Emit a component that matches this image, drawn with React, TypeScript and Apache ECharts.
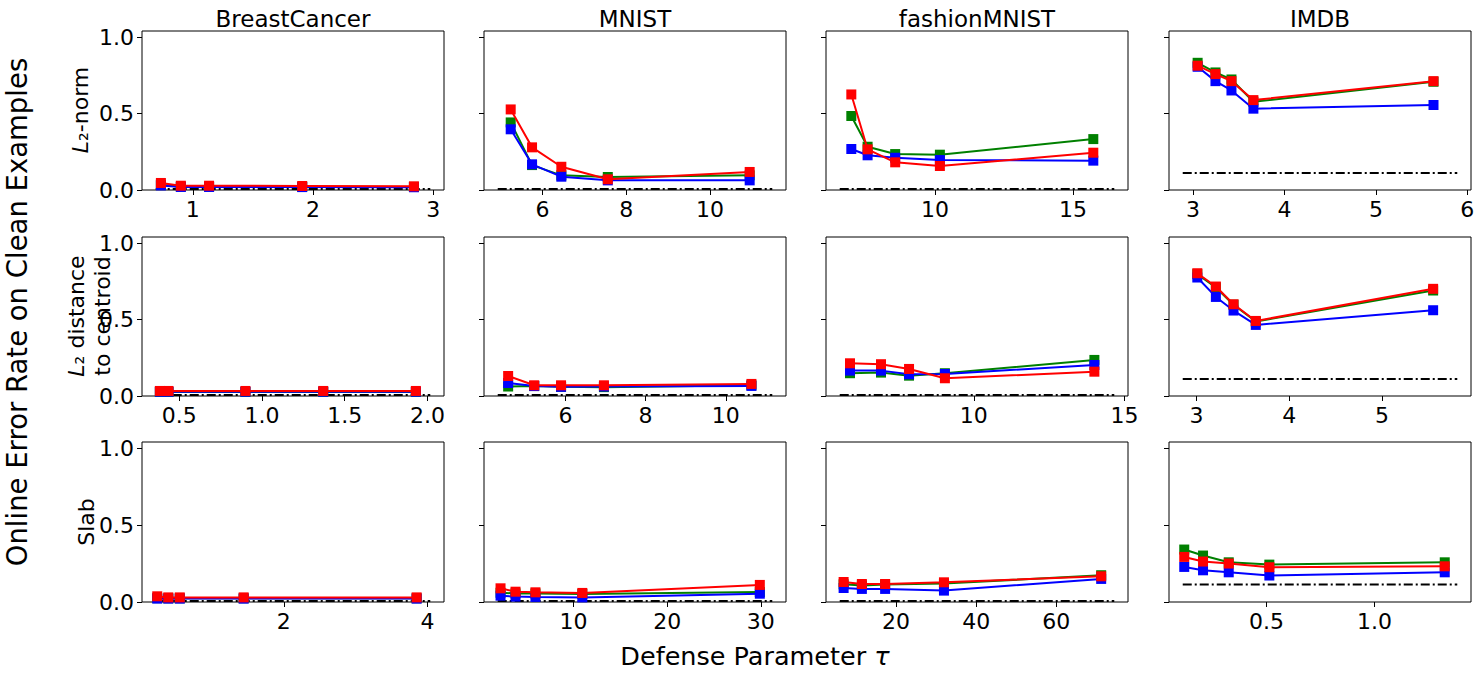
import React, { useEffect, useRef } from 'react';
import * as echarts from 'echarts';

const datasets = ['BreastCancer', 'MNIST', 'fashionMNIST', 'IMDB'];
const FONT = 'DejaVu Sans';

// ---------- Row 1: L2-norm defense ----------
const bcNormTau = [0.734, 0.9, 1.135, 1.91, 2.84];
const bcNormGreen = [0.035, 0.022, 0.022, 0.021, 0.02];
const bcNormBlue = [0.03, 0.02, 0.02, 0.019, 0.018];
const bcNormRed = [0.046, 0.028, 0.028, 0.026, 0.024];

const mnNormTau = [5.24, 5.75, 6.45, 7.56, 10.95];
const mnNormGreen = [0.442, 0.163, 0.096, 0.085, 0.096];
const mnNormBlue = [0.397, 0.168, 0.087, 0.063, 0.063];
const mnNormRed = [0.527, 0.279, 0.152, 0.07, 0.118];

const fmNormTau = [6.97, 7.56, 8.56, 10.18, 15.74];
const fmNormGreen = [0.484, 0.283, 0.235, 0.231, 0.333];
const fmNormBlue = [0.268, 0.227, 0.211, 0.196, 0.192];
const fmNormRed = [0.625, 0.266, 0.181, 0.157, 0.244];

const imNormTau = [3.05, 3.245, 3.42, 3.66, 5.63];
const imNormGreen = [0.832, 0.769, 0.723, 0.577, 0.708];
const imNormBlue = [0.806, 0.712, 0.651, 0.532, 0.556];
const imNormRed = [0.813, 0.758, 0.712, 0.588, 0.712];

// ---------- Row 2: L2 distance to centroid ----------
const bcCentTau = [0.383, 0.435, 0.9, 1.37, 1.93];
const bcCentGreen = [0.026, 0.026, 0.026, 0.026, 0.026];
const bcCentBlue = [0.028, 0.028, 0.028, 0.028, 0.028];
const bcCentRed = [0.033, 0.033, 0.033, 0.033, 0.033];

const mnCentTau = [4.57, 5.22, 5.89, 6.96, 10.64];
const mnCentGreen = [0.062, 0.065, 0.06, 0.058, 0.07];
const mnCentBlue = [0.085, 0.065, 0.06, 0.062, 0.066];
const mnCentRed = [0.131, 0.07, 0.07, 0.07, 0.079];

const fmCentTau = [5.89, 6.92, 7.85, 9.04, 14.0];
const fmCentGreen = [0.149, 0.153, 0.133, 0.149, 0.236];
const fmCentBlue = [0.166, 0.166, 0.142, 0.144, 0.203];
const fmCentRed = [0.214, 0.208, 0.177, 0.116, 0.159];

const imCentTau = [3.01, 3.21, 3.4, 3.64, 5.55];
const imCentGreen = [0.797, 0.71, 0.597, 0.487, 0.69];
const imCentBlue = [0.775, 0.648, 0.559, 0.465, 0.561];
const imCentRed = [0.803, 0.716, 0.6, 0.491, 0.701];

// ---------- Row 3: Slab ----------
const bcSlabTau = [0.236, 0.39, 0.55, 1.44, 3.85];
const bcSlabGreen = [0.025, 0.024, 0.024, 0.024, 0.024];
const bcSlabBlue = [0.022, 0.022, 0.022, 0.022, 0.022];
const bcSlabRed = [0.037, 0.03, 0.03, 0.03, 0.03];

const mnSlabTau = [2.19, 3.79, 5.92, 10.93, 29.9];
const mnSlabGreen = [0.06, 0.056, 0.055, 0.052, 0.065];
const mnSlabBlue = [0.041, 0.035, 0.033, 0.03, 0.054];
const mnSlabRed = [0.089, 0.067, 0.063, 0.059, 0.111];

const fmSlabTau = [6.9, 11.46, 17.26, 31.95, 71.2];
const fmSlabGreen = [0.115, 0.108, 0.113, 0.12, 0.174];
const fmSlabBlue = [0.091, 0.085, 0.085, 0.074, 0.15];
const fmSlabRed = [0.13, 0.117, 0.117, 0.128, 0.167];

const imSlabTau = [0.119, 0.206, 0.325, 0.513, 1.325];
const imSlabGreen = [0.341, 0.302, 0.258, 0.243, 0.258];
const imSlabBlue = [0.228, 0.206, 0.193, 0.172, 0.193];
const imSlabRed = [0.293, 0.263, 0.25, 0.226, 0.232];

// ---------- Baseline (dash-dot) lines: [tauStart, tauEnd, error] ----------
const baselineNorm = [
  [0.691, 2.976, 0.006],
  [4.93, 11.49, 0.006],
  [6.55, 16.5, 0.006],
  [2.887, 5.89, 0.111],
];
const baselineCent = [
  [0.358, 2.017, 0.006],
  [4.31, 11.16, 0.006],
  [5.55, 14.66, 0.006],
  [2.853, 5.81, 0.111],
];
const baselineSlab = [
  [0.215, 4.04, 0.006],
  [1.89, 31.23, 0.006],
  [5.93, 74.47, 0.006],
  [0.112, 1.383, 0.113],
];

// ---------- Tick labels ----------
const xTicksNorm = [[1, 2, 3], [6, 8, 10], [10, 15], [3, 4, 5, 6]];
const xTicksCent = [[0.5, 1.0, 1.5, 2.0], [6, 8, 10], [10, 15], [3, 4, 5]];
const xTicksSlab = [[2, 4], [10, 20, 30], [20, 40, 60], [0.5, 1.0]];
const yTicks = [0, 0.5, 1.0];

const panels = [
  [
    { tau: bcNormTau, g: bcNormGreen, b: bcNormBlue, r: bcNormRed, base: baselineNorm[0], ticks: xTicksNorm[0] },
    { tau: mnNormTau, g: mnNormGreen, b: mnNormBlue, r: mnNormRed, base: baselineNorm[1], ticks: xTicksNorm[1] },
    { tau: fmNormTau, g: fmNormGreen, b: fmNormBlue, r: fmNormRed, base: baselineNorm[2], ticks: xTicksNorm[2] },
    { tau: imNormTau, g: imNormGreen, b: imNormBlue, r: imNormRed, base: baselineNorm[3], ticks: xTicksNorm[3] },
  ],
  [
    { tau: bcCentTau, g: bcCentGreen, b: bcCentBlue, r: bcCentRed, base: baselineCent[0], ticks: xTicksCent[0] },
    { tau: mnCentTau, g: mnCentGreen, b: mnCentBlue, r: mnCentRed, base: baselineCent[1], ticks: xTicksCent[1] },
    { tau: fmCentTau, g: fmCentGreen, b: fmCentBlue, r: fmCentRed, base: baselineCent[2], ticks: xTicksCent[2] },
    { tau: imCentTau, g: imCentGreen, b: imCentBlue, r: imCentRed, base: baselineCent[3], ticks: xTicksCent[3] },
  ],
  [
    { tau: bcSlabTau, g: bcSlabGreen, b: bcSlabBlue, r: bcSlabRed, base: baselineSlab[0], ticks: xTicksSlab[0] },
    { tau: mnSlabTau, g: mnSlabGreen, b: mnSlabBlue, r: mnSlabRed, base: baselineSlab[1], ticks: xTicksSlab[1] },
    { tau: fmSlabTau, g: fmSlabGreen, b: fmSlabBlue, r: fmSlabRed, base: baselineSlab[2], ticks: xTicksSlab[2] },
    { tau: imSlabTau, g: imSlabGreen, b: imSlabBlue, r: imSlabRed, base: baselineSlab[3], ticks: xTicksSlab[3] },
  ],
];

const GRID_LEFT = [142, 484, 826, 1169];
const GRID_TOP = [31, 237, 442];
const GRID_W = 302;
const GRID_H = [159, 159, 160];

function buildOption() {
  const grid: any[] = [];
  const xAxis: any[] = [];
  const yAxis: any[] = [];
  const series: any[] = [];
  const graphic: any[] = [];

  panels.forEach((row, ri) => {
    row.forEach((p, ci) => {
      const idx = ri * 4 + ci;
      grid.push({
        left: GRID_LEFT[ci],
        top: GRID_TOP[ri],
        width: GRID_W,
        height: GRID_H[ri],
        show: true,
        borderColor: '#000',
        borderWidth: 1,
        backgroundColor: 'transparent',
        containLabel: false,
      });
      const span = p.base[1] - p.base[0];
      const decimals = p.ticks.some((t) => !Number.isInteger(t)) ? 1 : 0;
      xAxis.push({
        type: 'value',
        gridIndex: idx,
        min: p.base[0] - 0.05 * span,
        max: p.base[1] + 0.05 * span,
        axisLine: { show: false },
        axisTick: { show: true, length: 5, lineStyle: { color: '#000', width: 1 }, customValues: p.ticks },
        axisLabel: {
          show: true,
          customValues: p.ticks,
          formatter: (v: number) => v.toFixed(decimals),
          fontSize: 22,
          fontFamily: FONT,
          color: '#000',
          margin: 8,
        },
        splitLine: { show: false },
      });
      yAxis.push({
        type: 'value',
        gridIndex: idx,
        min: 0,
        max: 1.04,
        axisLine: { show: false },
        axisTick: { show: true, length: 5, lineStyle: { color: '#000', width: 1 }, customValues: yTicks },
        axisLabel: {
          show: ci === 0,
          customValues: yTicks,
          formatter: (v: number) => v.toFixed(1),
          fontSize: 22,
          fontFamily: FONT,
          color: '#000',
          margin: 8,
        },
        splitLine: { show: false },
      });
      series.push({
        type: 'line',
        xAxisIndex: idx,
        yAxisIndex: idx,
        data: [
          [p.base[0], p.base[2]],
          [p.base[1], p.base[2]],
        ],
        showSymbol: false,
        symbol: 'none',
        lineStyle: { color: '#000', width: 2, type: [9, 3, 2, 3] },
        z: 2,
        silent: true,
      });
      const mk = (vals: number[], color: string, z: number) => ({
        type: 'line',
        xAxisIndex: idx,
        yAxisIndex: idx,
        data: p.tau.map((t, i) => [t, vals[i]]),
        symbol: 'rect',
        symbolSize: 10,
        showSymbol: true,
        lineStyle: { color, width: 2 },
        itemStyle: { color },
        z,
        silent: true,
      });
      series.push(mk(p.g, '#008000', 3));
      series.push(mk(p.b, '#0000ff', 4));
      series.push(mk(p.r, '#ff0000', 5));
    });
  });

  datasets.forEach((name, ci) => {
    graphic.push({
      type: 'text',
      x: GRID_LEFT[ci] + GRID_W / 2,
      y: 19,
      style: {
        text: name,
        fontSize: 23,
        fontFamily: FONT,
        fill: '#000',
        textAlign: 'center',
        textVerticalAlign: 'middle',
      },
    });
  });

  const rich = {
    i: { fontStyle: 'italic', fontSize: 22, fontFamily: FONT, fill: '#000' },
    n: { fontSize: 22, fontFamily: FONT, fill: '#000' },
  };
  graphic.push({
    type: 'text',
    x: 80,
    y: 110,
    rotation: Math.PI / 2,
    style: {
      text: '{i|L}{n|₂-norm}',
      rich,
      fontSize: 22,
      fontFamily: FONT,
      fill: '#000',
      textAlign: 'center',
      textVerticalAlign: 'middle',
    },
  });
  graphic.push({
    type: 'text',
    x: 89,
    y: 316,
    rotation: Math.PI / 2,
    style: {
      text: '{i|L}{n|₂ distance}\n{n|to centroid}',
      rich: {
        i: { fontStyle: 'italic', fontSize: 22, fontFamily: FONT, fill: '#000', lineHeight: 26 },
        n: { fontSize: 22, fontFamily: FONT, fill: '#000', lineHeight: 26 },
      },
      fontSize: 22,
      fontFamily: FONT,
      fill: '#000',
      textAlign: 'center',
      textVerticalAlign: 'middle',
    },
  });
  graphic.push({
    type: 'text',
    x: 86,
    y: 522,
    rotation: Math.PI / 2,
    style: {
      text: 'Slab',
      fontSize: 22,
      fontFamily: FONT,
      fill: '#000',
      textAlign: 'center',
      textVerticalAlign: 'middle',
    },
  });
  graphic.push({
    type: 'text',
    x: 17,
    y: 312,
    rotation: Math.PI / 2,
    style: {
      text: 'Online Error Rate on Clean Examples',
      fontSize: 27.5,
      fontFamily: FONT,
      fill: '#000',
      textAlign: 'center',
      textVerticalAlign: 'middle',
    },
  });
  graphic.push({
    type: 'text',
    x: 755,
    y: 656,
    style: {
      text: '{n|Defense Parameter }{i|τ}',
      rich: {
        n: { fontSize: 25.5, fontFamily: FONT, fill: '#000' },
        i: { fontSize: 25.5, fontFamily: FONT, fill: '#000', fontStyle: 'italic' },
      },
      fontSize: 25.5,
      fontFamily: FONT,
      fill: '#000',
      textAlign: 'center',
      textVerticalAlign: 'middle',
    },
  });

  return {
    animation: false,
    backgroundColor: '#fff',
    grid,
    xAxis,
    yAxis,
    series,
    graphic,
  };
}

export default function App() {
  const ref = useRef<HTMLDivElement>(null);
  useEffect(() => {
    if (!ref.current) return;
    const chart = echarts.init(ref.current, undefined, { renderer: 'svg' });
    chart.setOption(buildOption() as any);
    return () => chart.dispose();
  }, []);
  return (
    <div
      ref={ref}
      style={{ position: 'fixed', left: 0, top: 0, width: 1483, height: 678, background: '#fff' }}
    />
  );
}
